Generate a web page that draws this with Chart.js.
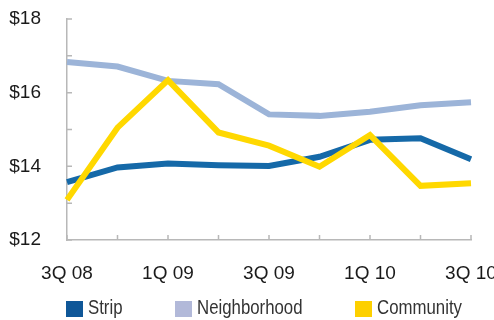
<!DOCTYPE html>
<html>
<head>
<meta charset="utf-8">
<script src="https://cdn.jsdelivr.net/npm/chart.js@4"></script>
<style>
  html, body { margin: 0; padding: 0; background: #fff; overflow: hidden; }
  #wrap { position: relative; width: 494px; height: 320px; }
  #chart { position: absolute; left: 0; top: 0; }
  .legend-item { position: absolute; top: 298px; height: 20px; font: 21px "Liberation Sans", Arial, sans-serif; color: #333; white-space: nowrap; }
  .legend-item span.box { position: absolute; left: 0; top: 2.5px; width: 17px; height: 16px; }
  .legend-item span.txt { position: absolute; left: 22px; top: -2px; line-height: 22px; transform: scaleX(0.8); transform-origin: 0 50%; }
</style>
</head>
<body>
<div id="wrap">
  <canvas id="chart" width="494" height="320"></canvas>
</div>
<script>
// quarters on the x axis
const quarters = ['3Q 08', '4Q 08', '1Q 09', '2Q 09', '3Q 09', '4Q 09', '1Q 10', '2Q 10', '3Q 10'];

// asking rent, $ per sq ft
const strip = [13.57, 13.97, 14.08, 14.03, 14.01, 14.26, 14.72, 14.76, 14.19];
const neighborhood = [16.83, 16.71, 16.32, 16.23, 15.41, 15.37, 15.48, 15.66, 15.74];
const community = [13.09, 15.05, 16.34, 14.92, 14.56, 13.99, 14.85, 13.47, 13.54];

const seriesNames = ['Strip', 'Neighborhood', 'Community'];
const lineColors = ['#1569a8', '#9cb4d8', '#ffd800'];
const legendColors = ['#0f5798', '#b2b9d9', '#fdd000'];
const legendLeft = [66, 175, 355];

const AXIS = '#b8b8b8';

// small inward tick marks on both axes
const innerTicks = {
    id: 'innerTicks',
    beforeDatasetsDraw(chart) {
        const { ctx, chartArea } = chart;
        const x = chart.scales.x, y = chart.scales.y;
        ctx.save();
        ctx.strokeStyle = AXIS;
        ctx.lineWidth = 1.5;
        ctx.beginPath();
        y.ticks.forEach(t => {
            const py = y.getPixelForValue(t.value);
            ctx.moveTo(chartArea.left, py);
            ctx.lineTo(chartArea.left + 5, py);
        });
        quarters.forEach((q, i) => {
            const px = x.getPixelForValue(i);
            ctx.moveTo(px, chartArea.bottom);
            ctx.lineTo(px, chartArea.bottom - 5);
        });
        ctx.stroke();
        ctx.restore();
    }
};

const values = [strip, neighborhood, community];
const order = [1, 2, 0];

new Chart(document.getElementById('chart'), {
    type: 'line',
    data: {
        labels: quarters,
        datasets: seriesNames.map((name, i) => ({
            label: name,
            data: values[i],
            borderColor: lineColors[i],
            backgroundColor: lineColors[i],
            borderWidth: 6,
            pointRadius: 0,
            tension: 0,
            fill: false,
            order: order[i]
        }))
    },
    options: {
        responsive: false,
        devicePixelRatio: 1,
        animation: false,
        layout: { padding: { left: 0, top: 19, right: 23, bottom: 0 } },
        plugins: {
            legend: { display: false },
            tooltip: { enabled: false }
        },
        scales: {
            x: {
                offset: false,
                grid: { display: false },
                border: { display: true, color: AXIS, width: 1.5 },
                ticks: {
                    autoSkip: false,
                    maxRotation: 0,
                    padding: 14,
                    color: '#1a1a1a',
                    font: { family: 'Liberation Sans, Arial, sans-serif', size: 19 },
                    callback: (v, i) => i % 2 === 0 ? quarters[i] : ''
                },
                afterFit(s) { s.height = 80; s.paddingLeft = 0; s.paddingRight = 0; }
            },
            y: {
                min: 12,
                max: 18,
                grid: { display: false },
                border: { display: true, color: AXIS, width: 1.5 },
                ticks: {
                    stepSize: 1,
                    padding: 18,
                    color: '#1a1a1a',
                    font: { family: 'Liberation Sans, Arial, sans-serif', size: 19 },
                    callback: v => v % 2 === 0 ? '$' + v : ''
                },
                afterFit(s) { s.width = 67; s.paddingTop = 0; s.paddingBottom = 0; }
            }
        }
    },
    plugins: [innerTicks]
});

// legend below the plot
const wrap = document.getElementById('wrap');
seriesNames.forEach((name, i) => {
    const item = document.createElement('div');
    item.className = 'legend-item';
    item.style.left = legendLeft[i] + 'px';
    item.innerHTML = '<span class="box" style="background:' + legendColors[i] + '"></span><span class="txt"></span>';
    item.querySelector('.txt').textContent = name;
    wrap.appendChild(item);
});
</script>
</body>
</html>
